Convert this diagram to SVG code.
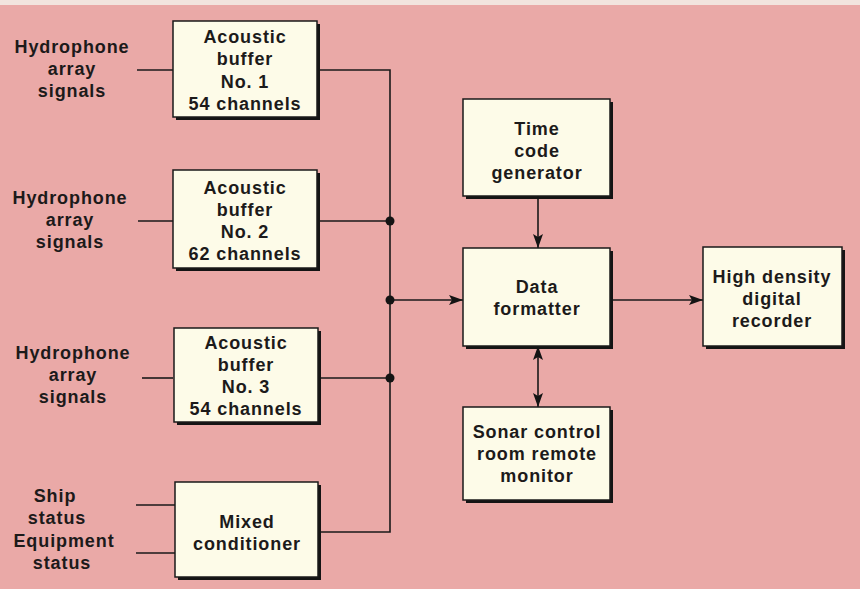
<svg xmlns="http://www.w3.org/2000/svg" width="860" height="589" viewBox="0 0 860 589">
<defs>
<style>
.bg{fill:#eaa9a7}
.sh{fill:#141414}
.bx{fill:#fdfbe8;stroke:#1a1a1a;stroke-width:1.5}
.t{font-family:"Liberation Sans",Arial,sans-serif;font-weight:bold;font-size:18px;letter-spacing:0.9px;fill:#1c1a1a;text-anchor:middle}
.ln{fill:none;stroke:#1a1a1a;stroke-width:1.6}
.dot{fill:#141414}
</style>
<marker id="ah" viewBox="0 0 14 10" refX="14" refY="5" markerWidth="14" markerHeight="10" markerUnits="userSpaceOnUse" orient="auto-start-reverse">
<path d="M0,0 L14,5 L0,10 L3,5 Z" fill="#141414"/>
</marker>
</defs>
<rect x="0" y="0" width="860" height="589" class="bg"/>
<rect x="0" y="0" width="860" height="5" fill="#f2e4de"/>

<g id="connectors">
<line class="ln" x1="137" y1="70" x2="173" y2="70"/>
<line class="ln" x1="138" y1="221" x2="173" y2="221"/>
<line class="ln" x1="142" y1="378" x2="173" y2="378"/>
<line class="ln" x1="136" y1="505" x2="175" y2="505"/>
<line class="ln" x1="136" y1="553" x2="175" y2="553"/>
<polyline class="ln" points="317,70 390,70 390,532 318,532"/>
<line class="ln" x1="317" y1="221" x2="390" y2="221"/>
<line class="ln" x1="318" y1="378" x2="390" y2="378"/>
<line class="ln" x1="390" y1="300" x2="463" y2="300" marker-end="url(#ah)"/>
<line class="ln" x1="538" y1="196" x2="538" y2="248" marker-end="url(#ah)"/>
<line class="ln" x1="610" y1="300" x2="703" y2="300" marker-end="url(#ah)"/>
<line class="ln" x1="538" y1="346" x2="538" y2="407" marker-start="url(#ah)" marker-end="url(#ah)"/>
<circle class="dot" cx="390" cy="221" r="4.5"/>
<circle class="dot" cx="390" cy="300" r="4.5"/>
<circle class="dot" cx="390" cy="378" r="4.5"/>
</g>

<g id="labels">
<text class="t" x="72" y="53">Hydrophone</text>
<text class="t" x="72" y="75">array</text>
<text class="t" x="72" y="97">signals</text>
<text class="t" x="70" y="204">Hydrophone</text>
<text class="t" x="70" y="226">array</text>
<text class="t" x="70" y="248">signals</text>
<text class="t" x="73" y="359">Hydrophone</text>
<text class="t" x="73" y="381">array</text>
<text class="t" x="73" y="403">signals</text>
<text class="t" x="55" y="502">Ship</text>
<text class="t" x="57" y="524">status</text>
<text class="t" x="64" y="547">Equipment</text>
<text class="t" x="62" y="569">status</text>
</g>

<g id="buffer1">
<rect class="sh" x="176" y="24" width="144" height="96"/>
<rect class="bx" x="173" y="21" width="144" height="96"/>
<text class="t" x="245" y="43">Acoustic</text>
<text class="t" x="245" y="65">buffer</text>
<text class="t" x="245" y="88">No. 1</text>
<text class="t" x="245" y="110">54 channels</text>
</g>

<g id="buffer2">
<rect class="sh" x="176" y="173" width="144" height="98"/>
<rect class="bx" x="173" y="170" width="144" height="98"/>
<text class="t" x="245" y="194">Acoustic</text>
<text class="t" x="245" y="216">buffer</text>
<text class="t" x="245" y="238">No. 2</text>
<text class="t" x="245" y="260">62 channels</text>
</g>

<g id="buffer3">
<rect class="sh" x="177" y="331" width="144" height="94"/>
<rect class="bx" x="174" y="328" width="144" height="94"/>
<text class="t" x="246" y="349">Acoustic</text>
<text class="t" x="246" y="371">buffer</text>
<text class="t" x="246" y="393">No. 3</text>
<text class="t" x="246" y="415">54 channels</text>
</g>

<g id="mixed">
<rect class="sh" x="178" y="485" width="143" height="95"/>
<rect class="bx" x="175" y="482" width="143" height="95"/>
<text class="t" x="247" y="528">Mixed</text>
<text class="t" x="247" y="550">conditioner</text>
</g>

<g id="timecode">
<rect class="sh" x="466" y="102" width="147" height="97"/>
<rect class="bx" x="463" y="99" width="147" height="97"/>
<text class="t" x="537" y="135">Time</text>
<text class="t" x="537" y="157">code</text>
<text class="t" x="537" y="179">generator</text>
</g>

<g id="formatter">
<rect class="sh" x="466" y="251" width="147" height="98"/>
<rect class="bx" x="463" y="248" width="147" height="98"/>
<text class="t" x="537" y="293">Data</text>
<text class="t" x="537" y="315">formatter</text>
</g>

<g id="recorder">
<rect class="sh" x="706" y="250" width="139" height="99"/>
<rect class="bx" x="703" y="247" width="139" height="99"/>
<text class="t" x="772" y="283">High density</text>
<text class="t" x="772" y="305">digital</text>
<text class="t" x="772" y="327">recorder</text>
</g>

<g id="sonar">
<rect class="sh" x="466" y="410" width="147" height="93"/>
<rect class="bx" x="463" y="407" width="147" height="93"/>
<text class="t" x="537" y="438">Sonar control</text>
<text class="t" x="537" y="460">room remote</text>
<text class="t" x="537" y="482">monitor</text>
</g>
</svg>
